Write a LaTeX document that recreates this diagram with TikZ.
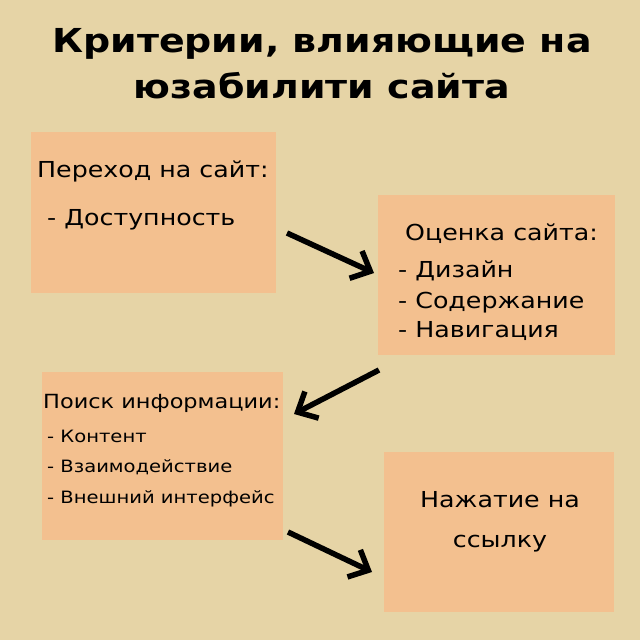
\documentclass[tikz,border=0pt]{standalone}
\usepackage{fontspec}
\setmainfont[FakeStretch=1.15]{DejaVu Sans}
\usetikzlibrary{arrows.meta}
\definecolor{bg}{HTML}{E6D4A6}
\definecolor{boxc}{HTML}{F3C08F}
\begin{document}
\begin{tikzpicture}[x=1pt,y=-1pt,
  card/.style={fill=boxc,draw=none},
  big/.style={anchor=base west,inner sep=0pt,font=\fontsize{22}{26}\selectfont},
  mid/.style={anchor=base west,inner sep=0pt,font=\fontsize{19.5}{24}\selectfont},
  small/.style={anchor=base west,inner sep=0pt,font=\fontsize{17}{20}\selectfont},
  arr/.style={line width=5.5pt,-{Straight Barb[length=16pt,width=30pt,line width=5.5pt]}}]
\fill[bg] (0,0) rectangle (640,640);
\useasboundingbox (0,0) rectangle (640,640);
\node[align=center,font=\fontsize{33}{46}\selectfont\bfseries] (title) at (322,64) {Критерии, влияющие на\\юзабилити сайта};
\fill[card] (31,132) rectangle (276,293);
\fill[card] (378,195) rectangle (615,355);
\fill[card] (42,372) rectangle (283,540);
\fill[card] (384,452) rectangle (614,612);
\node[big] (a1) at (37,177) {Переход на сайт:};
\node[big] (a2) at (47,225) {- Доступность};
\node[big] (b1) at (405,240) {Оценка сайта:};
\node[big] (b2) at (398,277) {- Дизайн};
\node[big] (b3) at (398,308) {- Содержание};
\node[big] (b4) at (398,337) {- Навигация};
\node[mid] (c1) at (43,408) {Поиск информации:};
\node[small] (c2) at (47,442) {- Контент};
\node[small] (c3) at (47,472) {- Взаимодействие};
\node[small] (c4) at (47,503) {- Внешний интерфейс};
\node[align=center,font=\fontsize{22}{40}\selectfont] (d1) at (500,522) {Нажатие на\\ссылку};
\coordinate (p1) at (287,233); \coordinate (q1) at (374,273);
\coordinate (p2) at (379,370); \coordinate (q2) at (294,414);
\coordinate (p3) at (288,532); \coordinate (q3) at (372,572);
\draw[arr] (p1) -- (q1);
\draw[arr] (p2) -- (q2);
\draw[arr] (p3) -- (q3);
\end{tikzpicture}
\end{document}
